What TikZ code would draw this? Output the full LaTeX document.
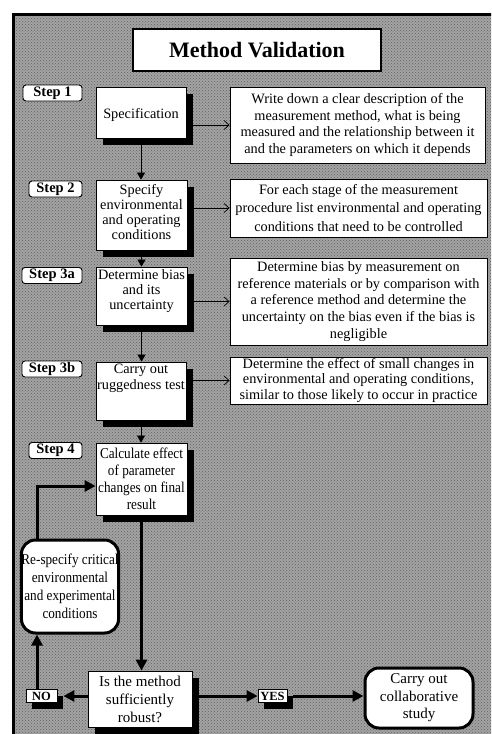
\documentclass[tikz,border=0pt]{standalone}
\usepackage{fontspec}
\setmainfont{Liberation Serif}
\newfontfamily\narrowserif[FakeStretch=0.88]{Liberation Serif}
\usetikzlibrary{arrows.meta,shadows,calc,patterns}

\begin{document}
\begin{tikzpicture}[x=1pt,y=-1pt,
  txt/.style={font=\fontsize{14.3}{#1}\selectfont},
  txt/.default=16.5,
  boxshadow/.style={drop shadow={shadow xshift=7pt,shadow yshift=-7pt,opacity=1,fill=black}},
  titlebox/.style={draw,line width=1.2pt,fill=white,inner sep=0pt,
    font=\fontsize{22}{24}\selectfont\bfseries},
  steplabel/.style={draw,line width=0.9pt,rounded corners=3pt,fill=white,inner sep=0pt,
    minimum height=16pt,font=\fontsize{14.5}{16}\selectfont\bfseries},
  stepbox/.style={draw,line width=0.8pt,fill=white,inner sep=0pt,boxshadow},
  boxtext/.style={align=center,inner sep=0pt},
  desc/.style={draw,line width=0.8pt,fill=white,inner sep=0pt,align=center},
  roundbox/.style={draw,line width=3pt,rounded corners=14pt,fill=white,inner sep=0pt,align=center},
  answer/.style={draw,line width=0.8pt,fill=white,inner sep=0pt,minimum height=13pt,
    font=\fontsize{12.5}{13}\selectfont\bfseries,
    drop shadow={shadow xshift=6pt,shadow yshift=-6pt,opacity=1,fill=black}},
  flow/.style={line width=0.7pt,-{Straight Barb[length=5pt,width=9pt]}},
  down/.style={line width=0.7pt,-{Triangle[length=7pt,width=8pt]}},
  heavy/.style={line width=3pt,-{Triangle[length=11pt,width=11pt]}}
]
\useasboundingbox (0,0) rectangle (491,734);
\clip (0,0) rectangle (491,734);

% stippled grey panel with its heavy black frame
\fill[black!36] (13.5,14.5) rectangle (500,740);
\fill[pattern=crosshatch dots,pattern color=black!62] (13.5,14.5) rectangle (500,740);
\draw[line width=3pt] (13.5,740) -- (13.5,14.5) -- (500,14.5);

% title
\node[titlebox,minimum width=248,minimum height=42] (title) at (257,50) {Method Validation};

% step labels
\node[steplabel,minimum width=59] (s1) at (52.5,93) {Step 1};
\node[steplabel,minimum width=53] (s2) at (55.5,189) {Step 2};
\node[steplabel,minimum width=60] (s3a) at (52,275.5) {Step 3a};
\node[steplabel,minimum width=60] (s3b) at (52,369) {Step 3b};
\node[steplabel,minimum width=53] (s4) at (55.5,450.5) {Step 4};

% step boxes
\node[stepbox,minimum width=90,minimum height=51] (spec) at (141,112.5) {};
\node[boxtext,txt] (spectxt) at (141,115) {Specification};

\node[stepbox,minimum width=91,minimum height=70] (env) at (141.5,215) {};
\node[boxtext,txt=15] (envtxt) at (141.5,212) {Specify\\environmental\\and operating\\conditions};

\node[stepbox,minimum width=91,minimum height=58] (bias) at (141.5,296) {};
\node[boxtext,txt=15] (biastxt) at (141.5,291) {Determine bias\\and its\\uncertainty};

\node[stepbox,minimum width=90,minimum height=58] (rug) at (141,391) {};
\node[boxtext,txt=16] (rugtxt) at (141,378) {Carry out\\ruggedness test};

\node[stepbox,minimum width=91,minimum height=72] (calc) at (141.5,479) {};
\node[boxtext,font=\narrowserif\fontsize{15}{17}\selectfont] (calctxt) at (141.5,479)
  {Calculate effect\\of parameter\\changes on final\\result};

% descriptions
\node[desc,txt=16.5,minimum width=255,minimum height=76] (d1) at (357.5,125)
  {Write down a clear description of the\\measurement method, what is being\\measured and the relationship between it\\and the parameters on which it depends};
\node[desc,txt=18.5,minimum width=257,minimum height=58] (d2) at (358.5,208)
  {For each stage of the measurement\\procedure list environmental and operating\\conditions that need to be controlled};
\node[desc,txt=16.7,minimum width=257,minimum height=87] (d3) at (358.5,301.5)
  {Determine bias by measurement on\\reference materials or by comparison with\\a reference method and determine the\\uncertainty on the bias even if the bias is\\negligible};
\node[desc,txt=15.5,minimum width=257,minimum height=47] (d3b) at (358.5,380.5)
  {Determine the effect of small changes in\\environmental and operating conditions,\\similar to those likely to occur in practice};

% decision and outcomes
\node[roundbox,minimum width=96,minimum height=93,
  font=\narrowserif\fontsize{15}{18}\selectfont] (respec) at (70,586.5)
  {Re-specify critical\\environmental\\and experimental\\conditions};
\node[stepbox,minimum width=104,minimum height=56,align=center,
  font=\fontsize{15}{18}\selectfont] (dec) at (140,699)
  {Is the method\\sufficiently\\robust?};
\node[answer,minimum width=31] (no) at (41.5,696) {NO};
\node[answer,minimum width=29] (yes) at (272.5,696) {YES};
\node[roundbox,minimum width=108,minimum height=60,
  font=\fontsize{15}{17.5}\selectfont] (carry) at (419,698)
  {Carry out\\collaborative\\study};

% thin connectors
\draw[flow] (spec.east |- d1.west) -- (d1.west);
\draw[flow] (env.east |- d2.west) -- (d2.west);
\draw[flow] (bias.east |- d3.west) -- (d3.west);
\draw[flow] (rug.east |- d3b.west) -- (d3b.west);
\draw[down] (spec.south) -- (spec.south |- env.north);
\draw[down] (env.south) -- (env.south |- bias.north);
\draw[down] (bias.south) -- (bias.south |- rug.north);
\draw[down] (rug.south) -- (rug.south |- calc.north);

% heavy connectors
\coordinate (lp) at (37,486);
\draw[heavy] (calc.south) -- (calc.south |- dec.north);
\draw[heavy] (dec.west |- no) -- ($(no.east)+(6,0)$);
\draw[heavy] (no.north -| lp) -- (respec.south -| lp);
\draw[heavy] (respec.north -| lp) -- (lp) -- (lp -| calc.west);
\draw[heavy] (dec.east |- yes) -- (yes.west);
\draw[heavy] ($(yes.east)+(6,0)$) -- (carry.west |- yes);
\end{tikzpicture}
\end{document}
